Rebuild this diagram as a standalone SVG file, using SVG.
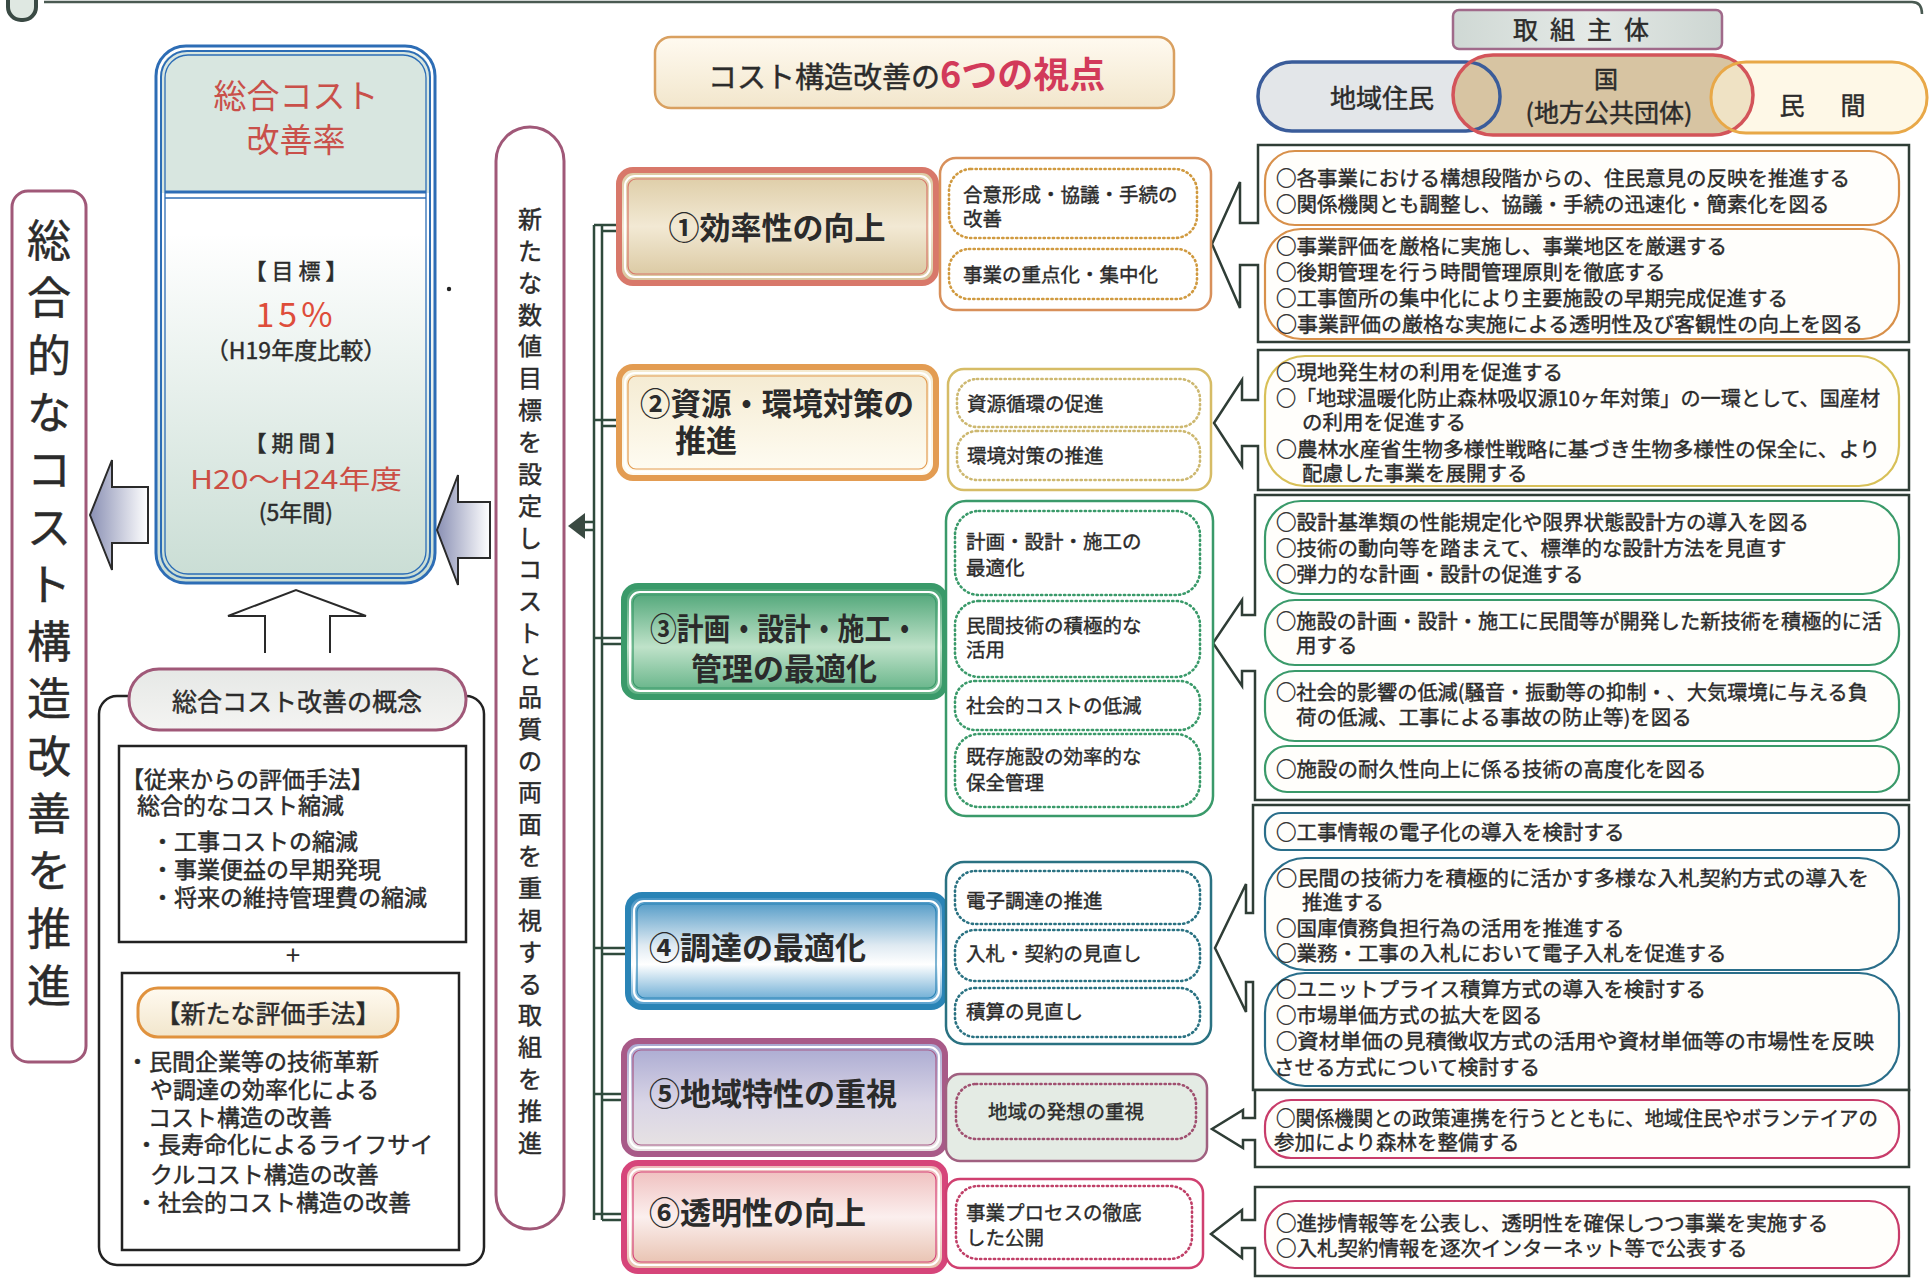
<svg xmlns="http://www.w3.org/2000/svg" width="1931" height="1280" viewBox="0 0 1931 1280">
<defs>
<style>
.t{font-family:"Noto Sans CJK JP","Noto Sans",sans-serif;fill:#2b2b2b}
.w{stroke:#2b2b2b;stroke-width:0.45}
.pt{font-size:20.5px;stroke:#2b2b2b;stroke-width:0.4}
.st{font-size:19.5px;stroke:#2b2b2b;stroke-width:0.4}
.cat{font-size:31px;font-weight:bold}
.grp{fill:#fff;stroke:#2f3d36;stroke-width:2.5;stroke-linejoin:miter}
.dot{fill:none;stroke-width:2.6;stroke-dasharray:1.2 3.4;stroke-linecap:round}
.pill{fill:#fffefb;stroke-width:2.2}
.blk{fill:none;stroke:#222;stroke-width:2.5}
.mauve{fill:none;stroke:#a05878;stroke-width:3}
.tree{stroke:#2f4a3c;stroke-width:2.5;fill:none}
</style>
<linearGradient id="gBeige" x1="0" y1="0" x2="0" y2="1"><stop offset="0" stop-color="#dccaa2"/><stop offset="0.5" stop-color="#f2e9d4"/><stop offset="1" stop-color="#d8c59c"/></linearGradient>
<linearGradient id="gCream" x1="0" y1="0" x2="0" y2="1"><stop offset="0" stop-color="#f4ead0"/><stop offset="1" stop-color="#fffdf4"/></linearGradient>
<linearGradient id="gGreen" x1="0" y1="0" x2="0" y2="1"><stop offset="0" stop-color="#44a070"/><stop offset="0.55" stop-color="#bfe2c9"/><stop offset="1" stop-color="#5aae80"/></linearGradient>
<linearGradient id="gBlue" x1="0" y1="0" x2="0" y2="1"><stop offset="0" stop-color="#3c8ec0"/><stop offset="0.45" stop-color="#dfeaf2"/><stop offset="0.62" stop-color="#ffffff"/><stop offset="1" stop-color="#4f9ccc"/></linearGradient>
<linearGradient id="gLav" x1="0" y1="0" x2="0" y2="1"><stop offset="0" stop-color="#a7a7d0"/><stop offset="0.55" stop-color="#d9d5e6"/><stop offset="1" stop-color="#e9e4e2"/></linearGradient>
<linearGradient id="gPink" x1="0" y1="0" x2="0" y2="1"><stop offset="0" stop-color="#eeb9b8"/><stop offset="0.5" stop-color="#fbefee"/><stop offset="1" stop-color="#e6bca8"/></linearGradient>
<linearGradient id="gCen" x1="0" y1="0" x2="0" y2="1"><stop offset="0" stop-color="#ffffff"/><stop offset="0.35" stop-color="#ffffff"/><stop offset="1" stop-color="#c9ddd4"/></linearGradient>
<linearGradient id="gArrL" x1="0" y1="0" x2="1" y2="0"><stop offset="0" stop-color="#8a90b4"/><stop offset="1" stop-color="#ffffff"/></linearGradient>
<linearGradient id="gGray" x1="0" y1="0" x2="0" y2="1"><stop offset="0" stop-color="#e6e8e6"/><stop offset="1" stop-color="#f4f4f2"/></linearGradient>
<linearGradient id="gOr" x1="0" y1="0" x2="0" y2="1"><stop offset="0" stop-color="#fffaf0"/><stop offset="1" stop-color="#f2e6cc"/></linearGradient>
<linearGradient id="gHead" x1="0" y1="0" x2="1" y2="0"><stop offset="0" stop-color="#cfd8d4"/><stop offset="0.5" stop-color="#e4e9e6"/><stop offset="1" stop-color="#cdd6d2"/></linearGradient>
</defs>
<rect width="1931" height="1280" fill="#ffffff"/>

<!-- top edge remnants -->
<g id="topedge">
<rect x="8" y="-40" width="28" height="60" rx="13" fill="#dfe8e2" stroke="#3a4a44" stroke-width="4"/>
<path d="M44,2 H1912 Q1922,2 1922,14" fill="none" stroke="#4a5a52" stroke-width="2.5"/>
</g>

<!-- left vertical box -->
<g id="node-left">
<rect x="12" y="191" width="74" height="871" rx="16" class="mauve" fill="#fff"/>
<text class="t w" font-size="44" text-anchor="middle" fill="#2a2a2a"><tspan x="49" y="257">総</tspan><tspan x="49" y="314">合</tspan><tspan x="49" y="372">的</tspan><tspan x="49" y="429">な</tspan><tspan x="49" y="486">コ</tspan><tspan x="49" y="544">ス</tspan><tspan x="49" y="601">ト</tspan><tspan x="49" y="658">構</tspan><tspan x="49" y="715">造</tspan><tspan x="49" y="773">改</tspan><tspan x="49" y="830">善</tspan><tspan x="49" y="887">を</tspan><tspan x="49" y="945">推</tspan><tspan x="49" y="1002">進</tspan></text>
</g>

<!-- central blue box -->
<g id="node-rate">
<rect x="156" y="46" width="279" height="537" rx="30" fill="url(#gCen)"/>
<path d="M160,193 V80 Q160,50 190,50 H401 Q431,50 431,80 V193 Z" fill="#d8e6e0"/>
<rect x="156" y="46" width="279" height="537" rx="30" fill="none" stroke="#2d6db5" stroke-width="3"/>
<rect x="161" y="51" width="269" height="527" rx="26" fill="none" stroke="#2d6db5" stroke-width="2"/>
<rect x="165" y="55" width="261" height="519" rx="23" fill="none" stroke="#2d6db5" stroke-width="1.3"/>
<line x1="165" y1="192" x2="426" y2="192" stroke="#2d6db5" stroke-width="3"/>
<line x1="165" y1="198" x2="426" y2="198" stroke="#2d6db5" stroke-width="1.5"/>
<text class="t" x="296" y="108" font-size="33" text-anchor="middle" style="fill:#c9504a">総合コスト</text>
<text class="t" x="296" y="152" font-size="33" text-anchor="middle" style="fill:#c9504a">改善率</text>
<text class="t w" x="296" y="279" font-size="22" text-anchor="middle" xml:space="preserve">【 目 標 】</text>
<text class="t" x="296" y="327" font-size="34" text-anchor="middle" letter-spacing="4" style="fill:#de4d3a">15%</text>
<text class="t w" x="296" y="359" font-size="23" text-anchor="middle">（H19年度比較）</text>
<text class="t w" x="296" y="451" font-size="22" text-anchor="middle" xml:space="preserve">【 期 間 】</text>
<text class="t" x="190" y="489" font-size="26" textLength="212" lengthAdjust="spacingAndGlyphs" style="fill:#cc4f45">H20～H24年度</text>
<text class="t w" x="296" y="521" font-size="23" text-anchor="middle">(5年間)</text>
</g>
<circle cx="449" cy="289" r="2.2" fill="#222"/>

<!-- arrows around central box -->
<g id="arrows-left">
<path d="M148,487 H112 V460 L90,515 L112,570 V543 H148 Z" fill="url(#gArrL)" stroke="#2a2a2a" stroke-width="2"/>
<path d="M490,502 H458 V475 L437,530 L458,585 V558 H490 Z" fill="url(#gArrL)" stroke="#2a2a2a" stroke-width="2"/>
<path d="M265,653 V616 H228 L296,590 L366,616 H330 V653" fill="#fff" stroke="#2a2a2a" stroke-width="2"/>
</g>

<!-- 新たな... vertical pill -->
<g id="node-new">
<rect x="496" y="127" width="68" height="1102" rx="34" class="mauve" fill="#fff"/>
<text class="t w" font-size="24" text-anchor="middle" fill="#2a3a30"><tspan x="530" y="228">新</tspan><tspan x="530" y="260">た</tspan><tspan x="530" y="292">な</tspan><tspan x="530" y="324">数</tspan><tspan x="530" y="355">値</tspan><tspan x="530" y="387">目</tspan><tspan x="530" y="419">標</tspan><tspan x="530" y="451">を</tspan><tspan x="530" y="483">設</tspan><tspan x="530" y="515">定</tspan><tspan x="530" y="547">し</tspan><tspan x="530" y="578">コ</tspan><tspan x="530" y="610">ス</tspan><tspan x="530" y="642">ト</tspan><tspan x="530" y="674">と</tspan><tspan x="530" y="706">品</tspan><tspan x="530" y="738">質</tspan><tspan x="530" y="770">の</tspan><tspan x="530" y="801">両</tspan><tspan x="530" y="833">面</tspan><tspan x="530" y="865">を</tspan><tspan x="530" y="897">重</tspan><tspan x="530" y="929">視</tspan><tspan x="530" y="961">す</tspan><tspan x="530" y="993">る</tspan><tspan x="530" y="1024">取</tspan><tspan x="530" y="1056">組</tspan><tspan x="530" y="1088">を</tspan><tspan x="530" y="1120">推</tspan><tspan x="530" y="1152">進</tspan></text>
</g>

<!-- concept box -->
<g id="node-concept">
<rect x="99" y="696" width="385" height="569" rx="18" class="blk" fill="#fff"/>
<rect x="129" y="669" width="337" height="61" rx="30" fill="url(#gGray)" stroke="#a05878" stroke-width="3"/>
<text class="t w" x="297" y="711" font-size="25" text-anchor="middle">総合コスト改善の概念</text>
<rect x="119" y="746" width="347" height="196" class="blk"/>
<text class="t w" font-size="23"><tspan x="121" y="788">【従来からの評価手法】</tspan><tspan x="137" y="814">総合的なコスト縮減</tspan><tspan x="151" y="850">・工事コストの縮減</tspan><tspan x="151" y="878">・事業便益の早期発現</tspan><tspan x="151" y="906">・将来の維持管理費の縮減</tspan></text>
<text class="t" x="293" y="965" font-size="26" text-anchor="middle">+</text>
<rect x="122" y="973" width="337" height="277" class="blk"/>
<rect x="138" y="988" width="260" height="49" rx="20" fill="url(#gOr)" stroke="#e0923e" stroke-width="3"/>
<text class="t w" x="268" y="1023" font-size="25" text-anchor="middle">【新たな評価手法】</text>
<text class="t w" font-size="23"><tspan x="126" y="1070">・民間企業等の技術革新</tspan><tspan x="150" y="1098">や調達の効率化による</tspan><tspan x="148" y="1126">コスト構造の改善</tspan><tspan x="135" y="1153">・長寿命化によるライフサイ</tspan><tspan x="150" y="1183">クルコスト構造の改善</tspan><tspan x="135" y="1211">・社会的コスト構造の改善</tspan></text>
</g>

<!-- title -->
<g id="node-title">
<rect x="655" y="37" width="519" height="71" rx="16" fill="url(#gOr)" stroke="#d9a060" stroke-width="2.5"/>
<text class="t" x="708" y="88" font-size="29"><tspan class="w">コスト構造改善の</tspan><tspan font-size="36" font-weight="bold" fill="#d23a5a">6つの視点</tspan></text>
</g>

<!-- header: actors -->
<g id="node-actors">
<rect x="1453" y="10" width="269" height="39" rx="6" fill="url(#gHead)" stroke="#a06a8a" stroke-width="2.5"/>
<text class="t w" x="1587" y="39" font-size="25" text-anchor="middle" letter-spacing="12">取組主体</text>
<rect x="1258" y="62" width="242" height="69" rx="34" fill="#e3e6e9"/>
<rect x="1453" y="55" width="300" height="80" rx="40" fill="#d7c4a2"/>
<rect x="1711" y="62" width="216" height="71" rx="35" fill="#fdf3d8" fill-opacity="0.62"/>
<rect x="1258" y="62" width="242" height="69" rx="34" fill="none" stroke="#3a5c9a" stroke-width="3.5"/>
<rect x="1453" y="55" width="300" height="80" rx="40" fill="none" stroke="#d3545a" stroke-width="3.5"/>
<rect x="1711" y="62" width="216" height="71" rx="35" fill="none" stroke="#e8a848" stroke-width="3"/>
<text class="t w" x="1382" y="108" font-size="26" text-anchor="middle">地域住民</text>
<text class="t w" x="1606" y="88" font-size="24" text-anchor="middle">国</text>
<text class="t w" x="1609" y="122" font-size="25" text-anchor="middle">(地方公共団体)</text>
<text class="t w" x="1792" y="115" font-size="25" text-anchor="middle">民</text>
<text class="t w" x="1853" y="115" font-size="25" text-anchor="middle">間</text>
</g>

<!-- connectors: tree -->
<g id="connectors">
<line class="tree" x1="594" y1="225" x2="594" y2="1220"/>
<line class="tree" x1="602" y1="225" x2="602" y2="1220"/>
<path class="tree" d="M594,225 H619 M602,231 H619"/>
<path class="tree" d="M594,420 H619 M602,426 H619"/>
<path class="tree" d="M594,638 H624 M602,644 H624"/>
<path class="tree" d="M594,948 H628 M602,954 H628"/>
<path class="tree" d="M594,1094 H624 M602,1100 H624"/>
<path class="tree" d="M594,1214 H624 M602,1220 H624"/>
<path class="tree" d="M582,522 H594 M582,530 H594"/>
<polygon points="568,526 585,513 585,539" fill="#3a4a42"/>
<!-- bracket arrows -->
<path class="grp" d="M1258,223 V145 H1909 V342 H1258 V265 H1240 V308 L1212,244 L1240,182 V223 Z"/>
<path class="grp" d="M1258,400 V350 H1909 V490 H1258 V446 H1242 V466 L1214,423 L1242,380 V400 Z"/>
<path class="grp" d="M1255,615 V495 H1909 V800 H1255 V671 H1242 V686 L1213,643 L1242,600 V615 Z"/>
<path class="grp" d="M1253,913 V805 H1909 V1090 H1253 V982 H1246 V1012 L1215,948 L1246,884 V913 Z"/>
<path class="grp" d="M1255,1118 V1090 H1909 V1167 H1255 V1140 H1243 V1148 L1212,1129 L1243,1110 V1118 Z"/>
<path class="grp" d="M1255,1220 V1187 H1909 V1276 H1255 V1248 H1242 V1258 L1211,1234 L1242,1210 V1220 Z"/>
</g>

<!-- category 1 -->
<g id="cat1">
<rect x="619" y="170" width="317" height="113" rx="14" fill="url(#gBeige)" stroke="#d8786a" stroke-width="6"/>
<rect x="625" y="176" width="305" height="101" rx="10" fill="none" stroke="#fff" stroke-width="2"/>
<rect x="628" y="179" width="299" height="95" rx="8" fill="none" stroke="#d8786a" stroke-width="1.2"/>
<text class="t cat" x="777" y="239" text-anchor="middle">①効率性の向上</text>
</g>
<g id="sub1">
<rect x="940" y="158" width="271" height="152" rx="16" fill="#fff" stroke="#d8905a" stroke-width="2.5"/>
<rect x="949" y="169" width="248" height="69" rx="22" class="dot" stroke="#d09a40"/>
<rect x="949" y="249" width="248" height="50" rx="20" class="dot" stroke="#d09a40"/>
<text class="t st"><tspan x="963" y="202">合意形成・協議・手続の</tspan><tspan x="963" y="226">改善</tspan><tspan x="963" y="282">事業の重点化・集中化</tspan></text>
</g>
<g id="act1">
<rect x="1265" y="151" width="634" height="74" rx="30" class="pill" stroke="#d8904a"/>
<rect x="1265" y="229" width="634" height="110" rx="36" class="pill" stroke="#d8904a"/>
<text class="t pt"><tspan x="1276" y="186" textLength="574" lengthAdjust="spacingAndGlyphs">○各事業における構想段階からの、住民意見の反映を推進する</tspan><tspan x="1276" y="212">○関係機関とも調整し、協議・手続の迅速化・簡素化を図る</tspan><tspan x="1276" y="254">○事業評価を厳格に実施し、事業地区を厳選する</tspan><tspan x="1276" y="280">○後期管理を行う時間管理原則を徹底する</tspan><tspan x="1276" y="306">○工事箇所の集中化により主要施設の早期完成促進する</tspan><tspan x="1276" y="332" textLength="587" lengthAdjust="spacingAndGlyphs">○事業評価の厳格な実施による透明性及び客観性の向上を図る</tspan></text>
</g>

<!-- category 2 -->
<g id="cat2">
<rect x="619" y="367" width="317" height="111" rx="14" fill="url(#gCream)" stroke="#e39c52" stroke-width="6"/>
<rect x="625" y="373" width="305" height="99" rx="10" fill="none" stroke="#fff" stroke-width="2"/>
<rect x="628" y="376" width="299" height="93" rx="8" fill="none" stroke="#e39c52" stroke-width="1.2"/>
<text class="t cat"><tspan x="640" y="415" textLength="274" lengthAdjust="spacingAndGlyphs">②資源・環境対策の</tspan><tspan x="675" y="452">推進</tspan></text>
</g>
<g id="sub2">
<rect x="948" y="369" width="263" height="121" rx="16" fill="#fff" stroke="#d6bc66" stroke-width="2.5"/>
<rect x="957" y="379" width="243" height="48" rx="20" class="dot" stroke="#cdb870"/>
<rect x="957" y="431" width="243" height="49" rx="20" class="dot" stroke="#cdb870"/>
<text class="t st"><tspan x="967" y="411">資源循環の促進</tspan><tspan x="967" y="463">環境対策の推進</tspan></text>
</g>
<g id="act2">
<rect x="1265" y="356" width="634" height="130" rx="40" class="pill" stroke="#d8c058"/>
<text class="t pt"><tspan x="1276" y="380">○現地発生材の利用を促進する</tspan><tspan x="1276" y="406" textLength="604" lengthAdjust="spacingAndGlyphs">○「地球温暖化防止森林吸収源10ヶ年対策」の一環として、国産材</tspan><tspan x="1302" y="430">の利用を促進する</tspan><tspan x="1276" y="457" textLength="604" lengthAdjust="spacingAndGlyphs">○農林水産省生物多様性戦略に基づき生物多様性の保全に、より</tspan><tspan x="1302" y="481">配慮した事業を展開する</tspan></text>
</g>

<!-- category 3 -->
<g id="cat3">
<rect x="624" y="586" width="321" height="111" rx="14" fill="url(#gGreen)" stroke="#3a9a6a" stroke-width="6"/>
<rect x="630" y="592" width="309" height="99" rx="10" fill="none" stroke="#fff" stroke-width="2"/>
<rect x="633" y="595" width="303" height="93" rx="8" fill="none" stroke="#3a9a6a" stroke-width="1.2"/>
<text class="t cat" fill="#23402f"><tspan x="650" y="640" textLength="268" lengthAdjust="spacingAndGlyphs">③計画・設計・施工・</tspan><tspan x="691" y="680">管理の最適化</tspan></text>
</g>
<g id="sub3">
<rect x="946" y="501" width="267" height="315" rx="20" fill="#fff" stroke="#3a9a6a" stroke-width="2.5"/>
<rect x="955" y="511" width="245" height="84" rx="24" class="dot" stroke="#3a9a6a"/>
<rect x="955" y="601" width="245" height="76" rx="24" class="dot" stroke="#3a9a6a"/>
<rect x="955" y="681" width="245" height="49" rx="20" class="dot" stroke="#3a9a6a"/>
<rect x="955" y="734" width="245" height="73" rx="24" class="dot" stroke="#3a9a6a"/>
<text class="t st"><tspan x="966" y="549">計画・設計・施工の</tspan><tspan x="966" y="575">最適化</tspan><tspan x="966" y="633">民間技術の積極的な</tspan><tspan x="966" y="657">活用</tspan><tspan x="966" y="713">社会的コストの低減</tspan><tspan x="966" y="764">既存施設の効率的な</tspan><tspan x="966" y="790">保全管理</tspan></text>
</g>
<g id="act3">
<rect x="1265" y="501" width="634" height="93" rx="36" class="pill" stroke="#3a9a6a"/>
<rect x="1265" y="600" width="634" height="65" rx="30" class="pill" stroke="#3a9a6a"/>
<rect x="1265" y="671" width="634" height="70" rx="30" class="pill" stroke="#3a9a6a"/>
<rect x="1265" y="746" width="634" height="46" rx="22" class="pill" stroke="#3a9a6a"/>
<text class="t pt"><tspan x="1276" y="530">○設計基準類の性能規定化や限界状態設計方の導入を図る</tspan><tspan x="1276" y="556">○技術の動向等を踏まえて、標準的な設計方法を見直す</tspan><tspan x="1276" y="582">○弾力的な計画・設計の促進する</tspan><tspan x="1276" y="629" textLength="606" lengthAdjust="spacingAndGlyphs">○施設の計画・設計・施工に民間等が開発した新技術を積極的に活</tspan><tspan x="1296" y="653">用する</tspan><tspan x="1276" y="700" textLength="592" lengthAdjust="spacingAndGlyphs">○社会的影響の低減(騒音・振動等の抑制・、大気環境に与える負</tspan><tspan x="1296" y="725">荷の低減、工事による事故の防止等)を図る</tspan><tspan x="1276" y="777">○施設の耐久性向上に係る技術の高度化を図る</tspan></text>
</g>

<!-- category 4 -->
<g id="cat4">
<rect x="628" y="895" width="317" height="112" rx="14" fill="url(#gBlue)" stroke="#2a84b6" stroke-width="6"/>
<rect x="634" y="901" width="305" height="100" rx="10" fill="none" stroke="#fff" stroke-width="2"/>
<rect x="637" y="904" width="299" height="94" rx="8" fill="none" stroke="#2a84b6" stroke-width="1.2"/>
<text class="t cat" x="649" y="959">④調達の最適化</text>
</g>
<g id="sub4">
<rect x="946" y="862" width="265" height="182" rx="18" fill="#fff" stroke="#2a7282" stroke-width="2.5"/>
<rect x="955" y="871" width="245" height="53" rx="20" class="dot" stroke="#2a7282"/>
<rect x="955" y="930" width="245" height="51" rx="20" class="dot" stroke="#2a7282"/>
<rect x="955" y="988" width="245" height="49" rx="20" class="dot" stroke="#2a7282"/>
<text class="t st"><tspan x="966" y="908">電子調達の推進</tspan><tspan x="966" y="961">入札・契約の見直し</tspan><tspan x="966" y="1019">積算の見直し</tspan></text>
</g>
<g id="act4">
<rect x="1265" y="813" width="634" height="37" rx="16" class="pill" stroke="#2a6e8a"/>
<rect x="1265" y="858" width="634" height="112" rx="40" class="pill" stroke="#2a6e8a"/>
<rect x="1265" y="973" width="634" height="113" rx="40" class="pill" stroke="#2a6e8a"/>
<text class="t pt"><tspan x="1276" y="840">○工事情報の電子化の導入を検討する</tspan><tspan x="1276" y="886" textLength="593" lengthAdjust="spacingAndGlyphs">○民間の技術力を積極的に活かす多様な入札契約方式の導入を</tspan><tspan x="1302" y="910">推進する</tspan><tspan x="1276" y="936">○国庫債務負担行為の活用を推進する</tspan><tspan x="1276" y="961">○業務・工事の入札において電子入札を促進する</tspan><tspan x="1276" y="997">○ユニットプライス積算方式の導入を検討する</tspan><tspan x="1276" y="1023">○市場単価方式の拡大を図る</tspan><tspan x="1276" y="1049" textLength="598" lengthAdjust="spacingAndGlyphs">○資材単価の見積徴収方式の活用や資材単価等の市場性を反映</tspan><tspan x="1274" y="1075">させる方式について検討する</tspan></text>
</g>

<!-- category 5 -->
<g id="cat5">
<rect x="624" y="1041" width="321" height="113" rx="14" fill="url(#gLav)" stroke="#a85a88" stroke-width="6"/>
<rect x="630" y="1047" width="309" height="101" rx="10" fill="none" stroke="#fff" stroke-width="2"/>
<rect x="633" y="1050" width="303" height="95" rx="8" fill="none" stroke="#a85a88" stroke-width="1.2"/>
<text class="t cat" x="649" y="1105">⑤地域特性の重視</text>
</g>
<g id="sub5">
<rect x="946" y="1074" width="261" height="87" rx="14" fill="#e4ebe4" stroke="#a06080" stroke-width="2.5"/>
<rect x="956" y="1084" width="240" height="55" rx="20" class="dot" stroke="#a05070"/>
<text class="t st" x="1066" y="1119" text-anchor="middle">地域の発想の重視</text>
</g>
<g id="act5">
<rect x="1265" y="1100" width="634" height="58" rx="26" class="pill" stroke="#c83c6a"/>
<text class="t pt"><tspan x="1276" y="1126" textLength="602" lengthAdjust="spacingAndGlyphs">○関係機関との政策連携を行うとともに、地域住民やボランテイアの</tspan><tspan x="1274" y="1150">参加により森林を整備する</tspan></text>
</g>

<!-- category 6 -->
<g id="cat6">
<rect x="624" y="1163" width="321" height="108" rx="14" fill="url(#gPink)" stroke="#d6457a" stroke-width="6"/>
<rect x="630" y="1169" width="309" height="96" rx="10" fill="none" stroke="#fff" stroke-width="2"/>
<rect x="633" y="1172" width="303" height="90" rx="8" fill="none" stroke="#d6457a" stroke-width="1.2"/>
<text class="t cat" x="649" y="1224">⑥透明性の向上</text>
</g>
<g id="sub6">
<rect x="946" y="1179" width="257" height="89" rx="14" fill="#fff" stroke="#d04070" stroke-width="2.5"/>
<rect x="956" y="1186" width="236" height="73" rx="22" class="dot" stroke="#c04068"/>
<text class="t st"><tspan x="966" y="1220">事業プロセスの徹底</tspan><tspan x="966" y="1245">した公開</tspan></text>
</g>
<g id="act6">
<rect x="1265" y="1201" width="634" height="67" rx="30" class="pill" stroke="#c83c6a"/>
<text class="t pt"><tspan x="1276" y="1231">○進捗情報等を公表し、透明性を確保しつつ事業を実施する</tspan><tspan x="1276" y="1256">○入札契約情報を逐次インターネット等で公表する</tspan></text>
</g>
</svg>
